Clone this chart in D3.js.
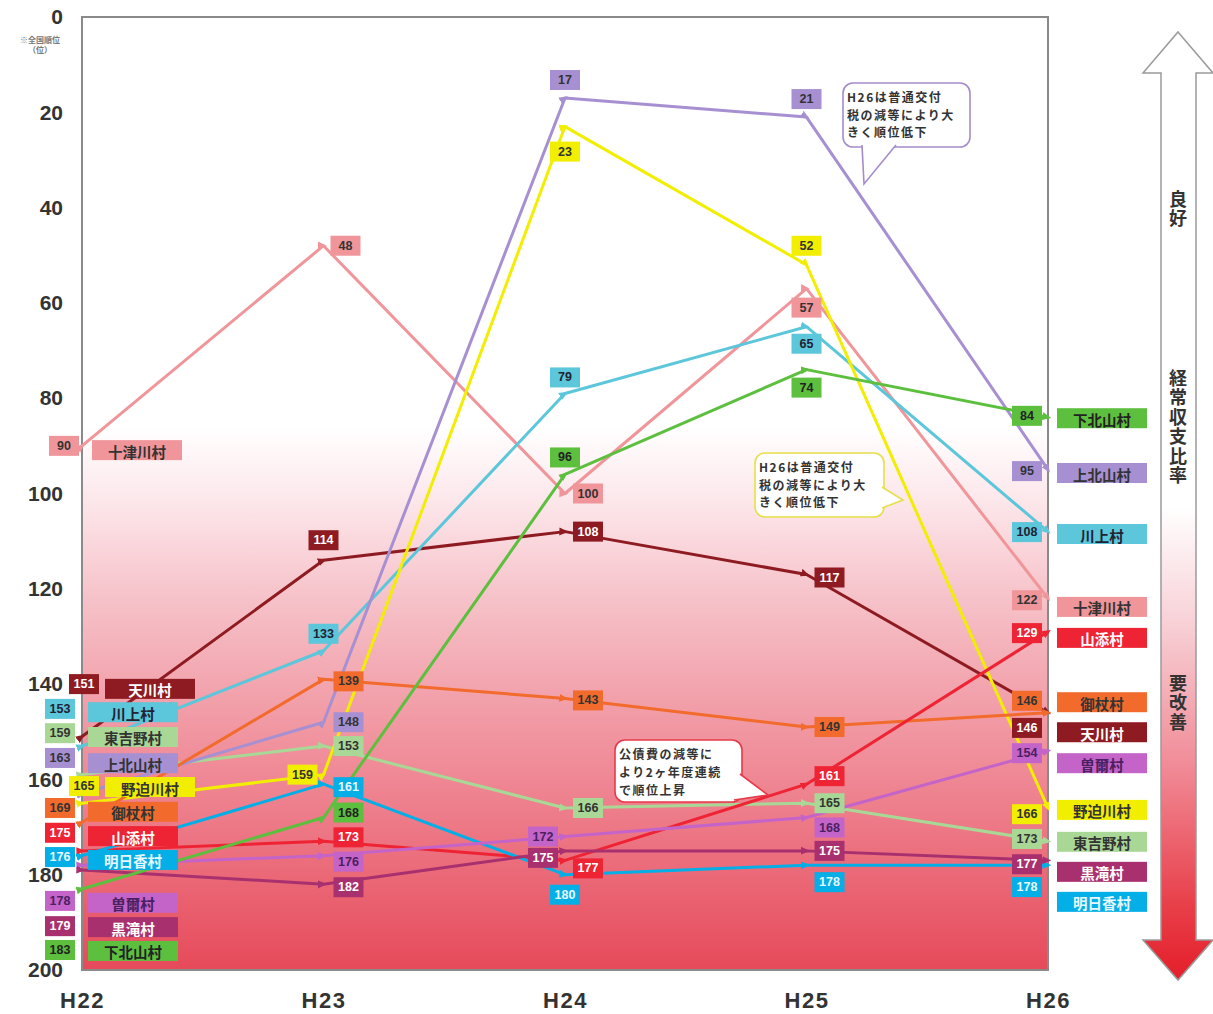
<!DOCTYPE html>
<html>
<head>
<meta charset="utf-8">
<script src="https://cdn.jsdelivr.net/npm/d3@7"></script>
<style>
body { margin: 0; background: #fff; }
svg text { font-family: "Noto Sans CJK JP", "Liberation Sans", sans-serif; font-weight: bold; }
svg text.num { font-family: "Liberation Sans", Arial, sans-serif; }
</style>
</head>
<body>
<div id="chart"></div>
<script>
// years on the x axis
var years = ["H22", "H23", "H24", "H25", "H26"];

var villages = ["十津川村", "天川村", "川上村", "東吉野村", "上北山村", "野迫川村",
  "御杖村", "山添村", "明日香村", "曽爾村", "黒滝村", "下北山村"];

// national rank of each village, one array per year (same order as villages)
var rankH22 = [90, 151, 153, 159, 163, 165, 169, 175, 176, 178, 179, 183];
var rankH23 = [48, 114, 133, 153, 148, 159, 139, 173, 161, 176, 182, 168];
var rankH24 = [100, 108, 79, 166, 17, 23, 143, 177, 180, 172, 175, 96];
var rankH25 = [57, 117, 65, 165, 21, 52, 149, 161, 178, 168, 175, 74];
var rankH26 = [122, 146, 108, 173, 95, 166, 146, 129, 178, 154, 177, 84];

var yTicks = [0, 20, 40, 60, 80, 100, 120, 140, 160, 180, 200];

var noteA = ["H26は普通交付", "税の減等により大", "きく順位低下"];
var noteB = ["公債費の減等に", "より2ヶ年度連続", "で順位上昇"];

// styles
var colors = ["#f0959a", "#8e1b22", "#5cc6da", "#a9d896", "#a790d2", "#f2ee00",
  "#f26b2c", "#ee2435", "#04aee6", "#c564c8", "#a8306e", "#5dbf3e"];
var inkColors = ["#333", "#fff", "#223", "#333", "#333", "#333",
  "#333", "#fff", "#e8f8ff", "#4a2060", "#fff", "#222"];

// label layout (rank units for the side stacks, pixel offsets for the middle)
var leftTagAt = [90, 140, 145.2, 150.3, 155.5, 161.4, 166, 171.2, 176.3, 185.5, 190.8, 195.8];
var leftNameAt = [90.9, 141, 145.9, 151.1, 156.6, 161.6, 166.8, 171.9, 176.9, 185.9, 191, 196];
var leftTagX = [64, 84, 60, 60, 60, 84, 60, 60, 60, 60, 60, 60];
var leftNameX = [92, 105, 88, 88, 88, 105, 88, 88, 88, 88, 88, 88];
var rightTagAt = [122.4, 149.2, 108.1, 172.5, 95.3, 167.3, 143.5, 129.3, 182.6, 154.5, 177.8, 83.7];
var rightNameAt = [123.8, 150.1, 108.5, 173.1, 95.7, 166.4, 143.8, 130.3, 185.7, 156.6, 179.4, 84.2];
var midOffset = [
  [[22, 0], [23, 0], [0, 19]],
  [[0, -20], [23, 0], [23, 3]],
  [[0, -17], [0, -16], [0, 17]],
  [[25, 0], [23, 0], [23, 0]],
  [[25, 0], [0, -18], [0, -18]],
  [[-21, 0], [0, 25], [0, -19]],
  [[25, 2], [23, 2], [23, 0]],
  [[25, -4], [23, 8], [23, -8]],
  [[25, 3], [0, 20], [23, 17]],
  [[25, 6], [-22, 0], [23, 10]],
  [[25, 3], [-22, 7], [23, 0]],
  [[25, -5], [0, -17], [0, 18]]
];

var svgWidth = 1213;
var svgHeight = 1014;
var margin = { top: 17, right: 165, bottom: 44, left: 82 };
var width = svgWidth - margin.left - margin.right;
var height = svgHeight - margin.top - margin.bottom;

var svg = d3.select("#chart").append("svg")
  .attr("width", svgWidth)
  .attr("height", svgHeight);

var defs = svg.append("defs");

var bg = defs.append("linearGradient")
  .attr("id", "bgGrad")
  .attr("x1", 0).attr("y1", 0).attr("x2", 0).attr("y2", 1);
[[0, "#ffffff"], [0.43, "#ffffff"], [0.51, "#fce6ea"], [0.61, "#f6c2c9"],
 [0.71, "#f2a2ac"], [0.85, "#ed7886"], [1, "#e64a5a"]].forEach(function(s) {
  bg.append("stop").attr("offset", s[0]).attr("stop-color", s[1]);
});

var ag = defs.append("linearGradient")
  .attr("id", "arrowGrad")
  .attr("gradientUnits", "userSpaceOnUse")
  .attr("x1", 0).attr("y1", 32).attr("x2", 0).attr("y2", 980);
[[0, "#ffffff"], [0.5, "#ffffff"], [0.62, "#f8d2d8"], [0.78, "#f08894"],
 [0.92, "#e8404a"], [1, "#e41e2a"]].forEach(function(s) {
  ag.append("stop").attr("offset", s[0]).attr("stop-color", s[1]);
});

colors.forEach(function(c, i) {
  defs.append("marker")
    .attr("id", "mk" + i)
    .attr("viewBox", "0 -4 8 8")
    .attr("refX", 5)
    .attr("markerUnits", "userSpaceOnUse")
    .attr("markerWidth", 9)
    .attr("markerHeight", 9)
    .attr("orient", "auto")
    .append("path")
    .attr("d", "M0,-3.5L8,0L0,3.5Z")
    .attr("fill", c);
});

// scales
var xScale = d3.scalePoint().domain(years).range([margin.left, margin.left + width]);
var yScale = d3.scaleLinear().domain([0, 200]).range([margin.top, margin.top + height]);

// plot background and frame
svg.append("rect")
  .attr("x", margin.left).attr("y", margin.top)
  .attr("width", width).attr("height", height)
  .attr("fill", "url(#bgGrad)")
  .attr("stroke", "#8a8a8a")
  .attr("stroke-width", 2);

// axes
var leftAxis = d3.axisLeft(yScale).tickValues(yTicks).tickSize(0).tickPadding(19);
var yAxis = svg.append("g")
  .attr("transform", `translate(${margin.left},0)`)
  .call(leftAxis);
yAxis.select(".domain").remove();
yAxis.selectAll("text")
  .attr("class", "num")
  .style("font-size", "21px")
  .attr("fill", "#333");

var bottomAxis = d3.axisBottom(xScale).tickSize(0).tickPadding(22);
var xAxis = svg.append("g")
  .attr("transform", `translate(0,${margin.top + height})`)
  .call(bottomAxis);
xAxis.select(".domain").remove();
xAxis.selectAll("text")
  .attr("class", "num")
  .style("font-size", "22px")
  .style("letter-spacing", "1.5px")
  .attr("fill", "#333");

svg.append("text").attr("x", 40).attr("y", 43)
  .attr("text-anchor", "middle").attr("fill", "#777")
  .style("font-size", "8px").text("※全国順位");
svg.append("text").attr("x", 40).attr("y", 53)
  .attr("text-anchor", "middle").attr("fill", "#777")
  .style("font-size", "8px").text("（位）");

// lines
var seriesData = villages.map(function(v, i) {
  return [rankH22[i], rankH23[i], rankH24[i], rankH25[i], rankH26[i]];
});

var line = d3.line()
  .x(function(d, j) { return xScale(years[j]); })
  .y(function(d) { return yScale(d); });

svg.append("g").selectAll("path")
  .data(seriesData)
  .enter()
  .append("path")
  .attr("d", line)
  .attr("fill", "none")
  .attr("stroke", function(d, i) { return colors[i]; })
  .attr("stroke-width", 3)
  .attr("stroke-linejoin", "round")
  .attr("marker-start", function(d, i) { return "url(#mk" + i + ")"; })
  .attr("marker-mid", function(d, i) { return "url(#mk" + i + ")"; })
  .attr("marker-end", function(d, i) { return "url(#mk" + i + ")"; });

// callouts (one text element with a tspan per line)
function bubble(x, y, w, h, tail, stroke, lines, fs, tx, ty, lh) {
  var g = svg.append("g");
  g.append("rect")
    .attr("x", x).attr("y", y).attr("width", w).attr("height", h)
    .attr("rx", 10).attr("ry", 10)
    .attr("fill", "#fff").attr("stroke", stroke).attr("stroke-width", 1.6);
  g.append("path")
    .attr("d", "M" + tail[0] + "L" + tail[1] + "L" + tail[2])
    .attr("fill", "#fff").attr("stroke", stroke).attr("stroke-width", 1.6);
  var t = g.append("text")
    .attr("fill", "#333")
    .style("font-size", fs + "px")
    .style("letter-spacing", "1.5px");
  lines.forEach(function(s, k) {
    t.append("tspan")
      .attr("x", tx)
      .attr("y", ty + k * lh)
      .text(s);
  });
}
bubble(843, 83, 127, 64, [[862, 145], [864, 184], [896, 145]], "#a48ccc", noteA, 12, 847, 102, 17.5);
bubble(755, 453, 129, 64, [[882, 487], [903, 500], [882, 508]], "#e6e048", noteA, 12, 759, 472, 17.5);
bubble(615, 740, 127, 62, [[740, 774], [768, 795], [734, 800]], "#e63a48", noteB, 12, 619, 759, 18);

// value tags
var tags = svg.append("g");
function tag(cx, cy, i, val) {
  tags.append("rect")
    .attr("x", cx - 15).attr("y", cy - 10)
    .attr("width", 30).attr("height", 20)
    .attr("fill", colors[i]);
  tags.append("text")
    .attr("class", "num")
    .attr("x", cx).attr("y", cy)
    .attr("text-anchor", "middle")
    .attr("dominant-baseline", "central")
    .attr("fill", inkColors[i])
    .style("font-size", "12.5px")
    .text(val);
}
function nameBox(x0, cy, i) {
  tags.append("rect")
    .attr("x", x0).attr("y", cy - 10)
    .attr("width", 90).attr("height", 20)
    .attr("fill", colors[i]);
  tags.append("text")
    .attr("x", x0 + 45).attr("y", cy + 1)
    .attr("text-anchor", "middle")
    .attr("dominant-baseline", "central")
    .attr("fill", inkColors[i])
    .style("font-size", "14.5px")
    .text(villages[i]);
}

villages.forEach(function(v, i) {
  var s = seriesData[i];
  // left stack (H22)
  tag(leftTagX[i], yScale(leftTagAt[i]), i, s[0]);
  nameBox(leftNameX[i], yScale(leftNameAt[i]), i);
  // middle years
  for (var j = 1; j <= 3; j++) {
    var off = midOffset[i][j - 1];
    tag(xScale(years[j]) + off[0], yScale(s[j]) + off[1], i, s[j]);
  }
  // right stack (H26)
  tag(1027, yScale(rightTagAt[i]), i, s[4]);
  nameBox(1057, yScale(rightNameAt[i]), i);
});

// double arrow on the right
svg.append("path")
  .attr("d", "M1178,32L1213,73L1196,73L1196,940L1213,940L1178,980L1143,940L1161,940L1161,73L1143,73Z")
  .attr("fill", "url(#arrowGrad)")
  .attr("stroke", "#9a9a9a")
  .attr("stroke-width", 1.5);

// vertical captions inside the arrow
function vText(str, yTop) {
  svg.append("text")
    .attr("x", 1178).attr("y", yTop)
    .style("writing-mode", "vertical-rl")
    .style("letter-spacing", "1.5px")
    .attr("fill", "#333")
    .style("font-size", "18px")
    .text(str);
}
vText("良好", 190);
vText("経常収支比率", 369);
vText("要改善", 674);
</script>
</body>
</html>
